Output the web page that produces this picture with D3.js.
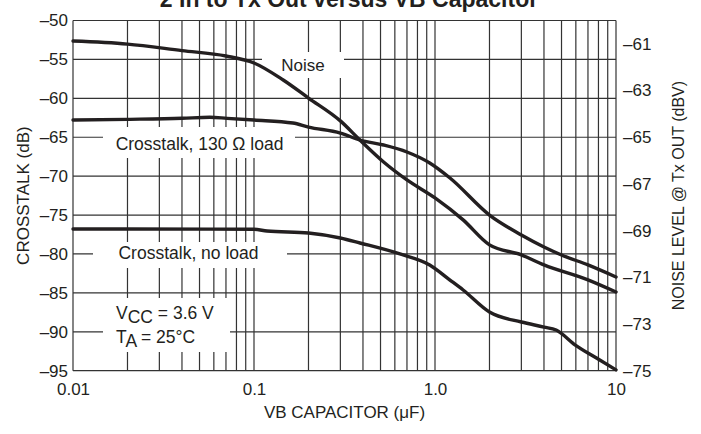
<!DOCTYPE html>
<html>
<head>
<meta charset="utf-8">
<script src="https://cdn.jsdelivr.net/npm/d3@7"></script>
<style>
  html, body { margin: 0; padding: 0; background: #fff; }
  svg { display: block; }
  text { font-family: "Liberation Sans", Arial, Helvetica, sans-serif; fill: #231f20; }
</style>
</head>
<body>
<svg id="chart" width="701" height="434"></svg>
<script>
// Capacitor values (µF) and measured levels for each curve
const noiseCap = [0.01, 0.02, 0.04, 0.07, 0.1, 0.145, 0.2, 0.3, 0.385, 0.52, 0.7, 1.0, 1.43, 2.0, 3.0, 4.0, 7.0, 10];
const noiseDBV = [-60.88, -61.01, -61.29, -61.52, -61.82, -62.55, -63.32, -64.30, -65.12, -66.06, -66.83, -67.60, -68.54, -69.61, -70.04, -70.47, -71.11, -71.63];

const load130Cap = [0.01, 0.02, 0.04, 0.057, 0.071, 0.1, 0.164, 0.2, 0.3, 0.385, 0.52, 0.7, 0.935, 1.21, 2.0, 3.0, 4.0, 5.0, 7.0, 10];
const load130DB  = [-62.79, -62.70, -62.57, -62.44, -62.57, -62.79, -63.17, -63.69, -64.46, -65.36, -66.0, -66.90, -68.31, -70.24, -75.0, -77.56, -79.1, -80.13, -81.41, -82.96];

const noLoadCap = [0.01, 0.02, 0.1, 0.118, 0.2, 0.3, 0.385, 0.64, 0.935, 1.21, 1.43, 2.0, 3.0, 4.0, 4.67, 5.96, 7.8, 10];
const noLoadDB  = [-76.79, -76.79, -76.83, -77.05, -77.31, -77.95, -78.59, -80.0, -81.41, -83.35, -84.63, -87.46, -88.74, -89.39, -89.77, -91.7, -93.37, -94.9];

// Axis ticks
const xTickValues = [0.01, 0.1, 1, 10];
const xTickLabels = ["0.01", "0.1", "1.0", "10"];
const leftTicks  = [-50, -55, -60, -65, -70, -75, -80, -85, -90, -95];
const rightTicks = [-61, -63, -65, -67, -69, -71, -73, -75];

const svg = d3.select("#chart");
const plotLeft = 73, plotRight = 616, plotTop = 20.5, plotBottom = 370.7;
const ink = "#231f20";

const x = d3.scaleLog().domain([0.01, 10]).range([plotLeft, plotRight]);
const yL = d3.scaleLinear().domain([-95, -50]).range([plotBottom, plotTop]);
const yR = d3.scaleLinear().domain([-75, -60]).range([plotBottom, plotTop]);

// Title (its upper part runs off the top edge)
svg.append("text")
  .attr("x", 349).attr("y", 7)
  .attr("text-anchor", "middle")
  .style("font-weight", "bold").style("font-size", "23px")
  .text("2 In to Tx Out versus VB Capacitor");

// Grid
const grid = svg.append("g").attr("stroke", "#333").attr("stroke-width", 1.2);
grid.selectAll("line.v").data(x.ticks()).join("line")
  .attr("x1", d => x(d)).attr("x2", d => x(d))
  .attr("y1", plotTop).attr("y2", plotBottom);
grid.selectAll("line.h").data(leftTicks).join("line")
  .attr("x1", plotLeft).attr("x2", plotRight)
  .attr("y1", d => yL(d)).attr("y2", d => yL(d));

// White panels behind the in-plot labels
const panels = [
  [262, 52, 82, 26],
  [103, 127, 192, 31],
  [93, 242, 194, 26],
  [103, 298, 127, 54]
];
svg.selectAll("rect.panel").data(panels).join("rect")
  .attr("x", d => d[0]).attr("y", d => d[1])
  .attr("width", d => d[2]).attr("height", d => d[3])
  .attr("fill", "#fff");

function styleAxisText(g) {
  g.select(".domain").remove();
  g.selectAll("text").style("font-size", "17px")
    .style("font-family", "Liberation Sans, Arial, sans-serif").attr("fill", ink);
}

// Left axis labels
svg.append("g").attr("transform", `translate(${plotLeft},0)`)
  .call(d3.axisLeft(yL).tickValues(leftTicks).tickSize(0).tickPadding(5)
    .tickFormat(d => "\u2013" + Math.abs(d)))
  .call(styleAxisText);

// Right axis labels
svg.append("g").attr("transform", `translate(${plotRight},0)`)
  .call(d3.axisRight(yR).tickValues(rightTicks).tickSize(0).tickPadding(7)
    .tickFormat(d => "\u2013" + Math.abs(d)))
  .call(styleAxisText);

// Bottom axis labels
svg.append("g").attr("transform", `translate(0,${plotBottom})`)
  .call(d3.axisBottom(x).tickValues(xTickValues).tickSize(0).tickPadding(12)
    .tickFormat((d, i) => xTickLabels[i]))
  .call(styleAxisText);

// Axis titles
svg.append("text")
  .attr("transform", `translate(29,${(plotTop + plotBottom) / 2}) rotate(-90)`)
  .attr("text-anchor", "middle").style("font-size", "17px")
  .text("CROSSTALK (dB)");
svg.append("text")
  .attr("transform", `translate(684,${(plotTop + plotBottom) / 2}) rotate(-90)`)
  .attr("text-anchor", "middle").style("font-size", "16px")
  .text("NOISE LEVEL @ Tx OUT (dBV)");
svg.append("text")
  .attr("x", (plotLeft + plotRight) / 2).attr("y", 418)
  .attr("text-anchor", "middle").style("font-size", "17px")
  .text("VB CAPACITOR (\u03bcF)");

// In-plot labels
svg.append("text").attr("x", 303).attr("y", 71).attr("text-anchor", "middle")
  .style("font-size", "17px").text("Noise");
svg.append("text").attr("x", 199.5).attr("y", 150).attr("text-anchor", "middle")
  .style("font-size", "17.5px").text("Crosstalk, 130 \u03a9 load");
svg.append("text").attr("x", 188.5).attr("y", 259).attr("text-anchor", "middle")
  .style("font-size", "17.5px").text("Crosstalk, no load");

const cond = svg.append("text").attr("x", 116).attr("y", 319).style("font-size", "17.5px");
cond.append("tspan").text("V");
cond.append("tspan").attr("dy", 4).text("CC");
cond.append("tspan").attr("dy", -4).text(" = 3.6 V");
const temp = svg.append("text").attr("x", 116).attr("y", 343).style("font-size", "17.5px");
temp.append("tspan").text("T");
temp.append("tspan").attr("dy", 4).text("A");
temp.append("tspan").attr("dy", -4).text(" = 25\u00b0C");

// Curves
const lineL = d3.line().x(d => x(d[0])).y(d => yL(d[1])).curve(d3.curveMonotoneX);
const lineR = d3.line().x(d => x(d[0])).y(d => yR(d[1])).curve(d3.curveMonotoneX);
const curves = svg.append("g").attr("fill", "none").attr("stroke", ink)
  .attr("stroke-width", 3.4).attr("stroke-linecap", "round").attr("stroke-linejoin", "round");
curves.append("path").attr("d", lineR(d3.zip(noiseCap, noiseDBV)));
curves.append("path").attr("d", lineL(d3.zip(load130Cap, load130DB)));
curves.append("path").attr("d", lineL(d3.zip(noLoadCap, noLoadDB)));
</script>
</body>
</html>
